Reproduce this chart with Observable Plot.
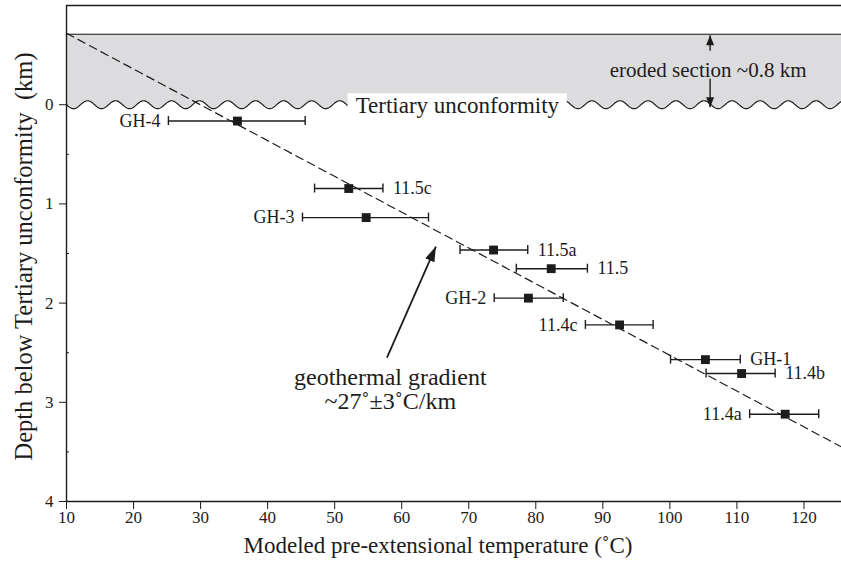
<!DOCTYPE html>
<html><head><meta charset="utf-8">
<script src="https://cdn.jsdelivr.net/npm/d3@7"></script>
<script src="https://cdn.jsdelivr.net/npm/@observablehq/plot@0.6"></script>
<style>body{margin:0;background:#fff}</style>
</head><body><div id="chart"></div>
<script>
// ---- data ----
const sampleNames = ["GH-4", "11.5c", "GH-3", "11.5a", "11.5", "GH-2", "11.4c", "GH-1", "11.4b", "11.4a"];
const sampleTemp  = [35.5, 52.1, 54.7, 73.7, 82.3, 78.9, 92.5, 105.3, 110.7, 117.2];
const sampleDepth = [0.165, 0.845, 1.138, 1.465, 1.653, 1.95, 2.22, 2.57, 2.71, 3.12];
const tempLow     = [25.2, 47.0, 45.2, 68.7, 77.1, 73.8, 87.4, 100.1, 105.4, 111.9];
const tempHigh    = [45.6, 57.2, 64.0, 78.8, 87.7, 84.1, 97.5, 110.5, 115.7, 122.2];
const labelSide   = ["left", "right", "left", "right", "right", "left", "left", "right", "right", "left"];

const gradientTemp  = [10, 125.6];
const gradientDepth = [-0.72, 3.45];

const xTicks = [10, 20, 30, 40, 50, 60, 70, 80, 90, 100, 110, 120];
const yTicks = [0, 1, 2, 3, 4];
const yMinorTicks = [0.5, 1.5, 2.5, 3.5];

const erodedTop = -0.71;          // top of eroded section (km)
const xLabel = "Modeled pre-extensional temperature (˚C)";
const yLabel = "Depth below Tertiary unconformity  (km)";
const unconformityLabel = "Tertiary unconformity";
const erodedLabel = "eroded section ~0.8 km";
const gradientLabel = "geothermal gradient\n~27˚±3˚C/km";

// annotation anchors (data units)
const unconfBox = {x1: 52.0, x2: 84.7, y1: -0.11, y2: 0.16, tx: 68.3, ty: 0.01};
const erodedText = {t: 105.7, d: -0.35};
const erodedArrows = [
  {t1: 106.0, d1: -0.545, t2: 106.0, d2: -0.70},
  {t1: 106.0, d1: -0.262, t2: 106.0, d2: 0.025}
];
const gradArrow = [{t1: 57.8, d1: 2.55, t2: 65.1, d2: 1.43}];
const gradText = {t: 58.3, d: 2.87};

// ---- derived tables ----
const samples = sampleNames.map((name, i) => ({
  name, t: sampleTemp[i], d: sampleDepth[i], lo: tempLow[i], hi: tempHigh[i], side: labelSide[i]
}));
const gradient = gradientTemp.map((t, i) => ({t, d: gradientDepth[i]}));
// decorative wavy unconformity line
const wavePeriod = 4.18, waveAmp = 0.04;
const wave = d3.range(10, 125.65, 0.1).map(t => ({t, d: waveAmp * Math.sin(2 * Math.PI * (t - 10) / wavePeriod)}));

const ink = "#1c1c1c";
const capHalf = 0.045;

function arrowHead(len, wid) {
  return (color, context) => {
    const m = d3.select(context.document.createElementNS("http://www.w3.org/2000/svg", "marker"))
      .attr("viewBox", `${-len} ${-wid / 2} ${len} ${wid}`)
      .attr("markerWidth", len).attr("markerHeight", wid)
      .attr("markerUnits", "userSpaceOnUse")
      .attr("orient", "auto").attr("refX", 0).attr("refY", 0)
      .attr("overflow", "visible");
    m.append("path").attr("d", `M${-len},${-wid / 2}L0,0L${-len},${wid / 2}Z`)
      .attr("fill", color).attr("stroke", "none");
    return m.node();
  };
}

const chart = Plot.plot({
  width: 841,
  height: 561,
  marginLeft: 66,
  marginRight: 0,
  marginTop: 5,
  marginBottom: 60,
  x: {domain: [10, 125.6]},
  y: {domain: [-1, 4], reverse: true},
  style: {fontFamily: "'Liberation Serif', 'DejaVu Serif', serif", fontSize: "17px", color: ink, background: "white"},
  marks: [
    // eroded section band
    Plot.areaY(wave, {x: "t", y1: () => erodedTop, y2: "d", fill: "#dcdcdf", curve: "linear"}),
    Plot.ruleY([erodedTop], {stroke: ink, strokeWidth: 1.2}),
    Plot.line(wave, {x: "t", y: "d", stroke: ink, strokeWidth: 1.2}),
    Plot.rect([unconfBox], {x1: "x1", x2: "x2", y1: "y1", y2: "y2", fill: "white"}),
    Plot.text([unconfBox], {x: "tx", y: "ty", text: () => unconformityLabel, fontSize: 23, fill: ink}),
    Plot.text([erodedText], {x: "t", y: "d", text: () => erodedLabel, fontSize: 21, fill: ink}),
    Plot.link(erodedArrows, {x1: "t1", y1: "d1", x2: "t2", y2: "d2", stroke: ink, strokeWidth: 1.4, markerEnd: arrowHead(10, 8)}),

    // frame
    Plot.ruleY([-1], {stroke: ink, strokeWidth: 1.4}),
    Plot.ruleX([10], {stroke: ink, strokeWidth: 1.4}),
    Plot.ruleY([4], {stroke: ink, strokeWidth: 1.4}),

    // axes
    Plot.axisX(xTicks, {tickSize: 8, tickPadding: 1, tickFormat: d => String(d), label: null, fontSize: 17, stroke: ink, fill: ink}),
    Plot.axisY(yTicks, {tickSize: 7, tickPadding: 6, tickFormat: d => String(d), label: null, fontSize: 17, stroke: ink, fill: ink}),
    Plot.axisY(yMinorTicks, {tickSize: 3, dx: 3, tickFormat: () => "", label: null, stroke: ink}),
    Plot.text([xLabel], {text: d => d, frameAnchor: "bottom", textAnchor: "middle", lineAnchor: "middle", dy: 44, dx: -16, fontSize: 23, fill: ink}),
    Plot.text([yLabel], {text: d => d, frameAnchor: "left", textAnchor: "middle", lineAnchor: "middle", rotate: -90, dx: -42, dy: 3, fontSize: 24.5, fill: ink}),

    // geothermal gradient
    Plot.line(gradient, {x: "t", y: "d", stroke: ink, strokeWidth: 1.2, strokeDasharray: "8,5"}),
    Plot.link(gradArrow, {x1: "t1", y1: "d1", x2: "t2", y2: "d2", stroke: ink, strokeWidth: 1.8, markerEnd: arrowHead(15, 10)}),
    Plot.text([gradText], {x: "t", y: "d", text: () => gradientLabel, fontSize: 24, lineHeight: 1.0, fill: ink}),

    // error bars
    Plot.link(samples, {x1: "lo", x2: "hi", y1: "d", y2: "d", stroke: ink, strokeWidth: 1.4}),
    Plot.ruleX(samples, {x: "lo", y1: d => d.d - capHalf, y2: d => d.d + capHalf, stroke: ink, strokeWidth: 1.4}),
    Plot.ruleX(samples, {x: "hi", y1: d => d.d - capHalf, y2: d => d.d + capHalf, stroke: ink, strokeWidth: 1.4}),
    Plot.dot(samples, {x: "t", y: "d", symbol: "square", r: 5, fill: ink, stroke: "none"}),

    // sample labels
    Plot.text(samples.filter(d => d.side === "left"), {x: "lo", y: "d", text: "name", textAnchor: "end", dx: -8, fontSize: 18, fill: ink}),
    Plot.text(samples.filter(d => d.side === "right"), {x: "hi", y: "d", text: "name", textAnchor: "start", dx: 10, fontSize: 18, fill: ink})
  ]
});
document.getElementById("chart").appendChild(chart);
</script>
</body></html>
